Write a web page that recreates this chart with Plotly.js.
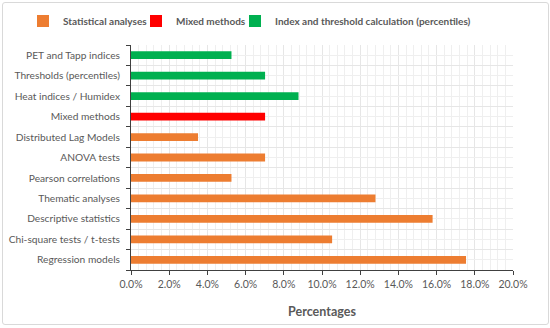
<!DOCTYPE html>
<html>
<head>
<meta charset="utf-8">
<script src="https://cdn.plot.ly/plotly-3.0.1.min.js"></script>
<style>
  html, body { margin: 0; padding: 0; background: #fff; }
  #frame { position: absolute; left: 2px; top: 2px; width: 545px; height: 321px;
           border: 1px solid #d9d9d9; border-radius: 3px; }
  #plotArea { position: absolute; left: 0; top: 0; width: 550px; height: 328px; }
</style>
</head>
<body>
<div id="frame"></div>
<div id="plotArea"></div>
<script>
// categories bottom to top, as drawn
var categories = ["Regression models", "Chi-square tests / t-tests", "Descriptive statistics",
    "Thematic analyses", "Pearson correlations", "ANOVA tests", "Distributed Lag Models",
    "Mixed methods", "Heat indices / Humidex", "Thresholds (percentiles)", "PET and Tapp indices"];
var percentages = [17.54, 10.53, 15.79, 12.8, 5.26, 7.02, 3.51, 7.02, 8.77, 7.02, 5.26];
var groups = ["Statistical analyses", "Statistical analyses", "Statistical analyses",
    "Statistical analyses", "Statistical analyses", "Statistical analyses", "Statistical analyses",
    "Mixed methods", "Index and threshold calculation (percentiles)",
    "Index and threshold calculation (percentiles)", "Index and threshold calculation (percentiles)"];
var groupNames = ["Statistical analyses", "Mixed methods", "Index and threshold calculation (percentiles)"];
var groupColors = ["#ED7D31", "#FF0000", "#00B050"];
var xTicks = [0, 2, 4, 6, 8, 10, 12, 14, 16, 18, 20];

var positions = categories.map(function (c, i) { return i; });
var legendIds = ["legend", "legend2", "legend3"];
var legendLeft = [23, 136, 235];   // one legend per group so they sit on one row

var traces = groupNames.map(function (g, k) {
    var xs = [], ys = [];
    groups.forEach(function (grp, i) {
        if (grp === g) { xs.push(percentages[i]); ys.push(positions[i]); }
    });
    return {
        type: "bar",
        orientation: "h",
        name: g,
        legend: legendIds[k],
        x: xs,
        y: ys,
        width: 0.38,
        marker: { color: groupColors[k], line: { width: 0 } },
        hoverinfo: "x+name"
    };
});

var gray = "#595959";
var layout = {
    width: 550,
    height: 328,
    paper_bgcolor: "rgba(0,0,0,0)",
    plot_bgcolor: "rgba(0,0,0,0)",
    margin: { l: 131, r: 37, t: 45, b: 58 },
    font: { family: "Lato, 'Open Sans', sans-serif", size: 10, color: gray },
    showlegend: true,
    xaxis: {
        range: [0, 20],
        tickvals: xTicks,
        ticktext: xTicks.map(function (v) { return v.toFixed(1) + "%"; }),
        ticks: "outside",
        ticklen: 4,
        tickcolor: "#404040",
        showline: true,
        linecolor: "#404040",
        linewidth: 1,
        showgrid: true,
        gridcolor: "#e6e6e6",
        zeroline: false,
        minor: { dtick: 0.4, tick0: 0, showgrid: true, gridcolor: "#efefef", ticks: "" },
        tickfont: { size: 10.5, color: gray },
        title: { text: "Percentages", font: { size: 12.5, color: gray, weight: "bold" }, standoff: 18 },
        fixedrange: true
    },
    yaxis: {
        range: [-0.5, 10.5],
        tickvals: positions,
        ticktext: categories,
        ticks: "",
        showline: true,
        linecolor: "#404040",
        linewidth: 1,
        showgrid: true,
        gridcolor: "#efefef",
        zeroline: false,
        minor: { dtick: 1, tick0: -0.5, ticks: "outside", ticklen: 4, tickcolor: "#404040",
                 showgrid: true, gridcolor: "#e6e6e6" },
        ticklabelstandoff: 8,
        tickfont: { size: 10.2, color: gray },
        fixedrange: true
    }
};

legendIds.forEach(function (id, k) {
    layout[id] = {
        orientation: "h",
        xref: "container", yref: "container",
        x: legendLeft[k] / 550, xanchor: "left",
        y: 1 - 21 / 328, yanchor: "middle",
        font: { size: 10, color: gray, weight: "bold" },
        itemwidth: 30,
        bgcolor: "rgba(0,0,0,0)"
    };
});

Plotly.newPlot("plotArea", traces, layout, { displayModeBar: false, staticPlot: true });
</script>
</body>
</html>
